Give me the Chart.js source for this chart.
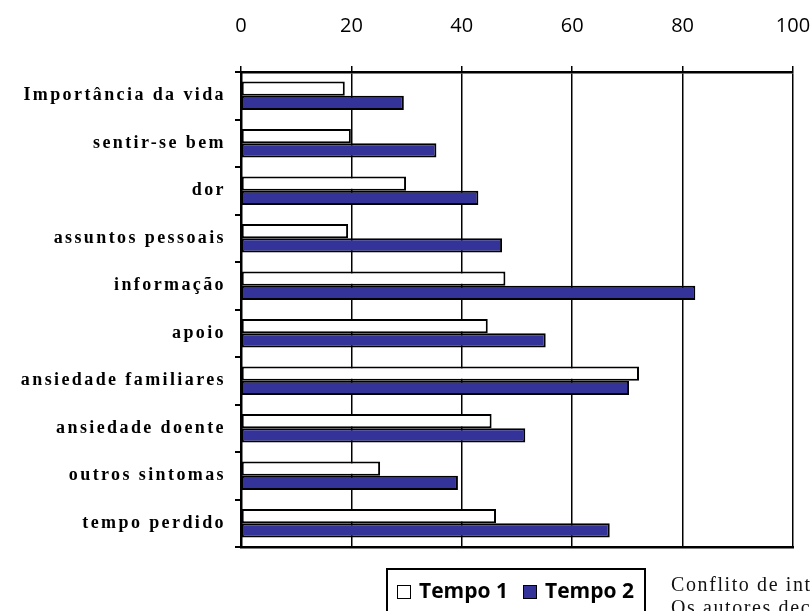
<!DOCTYPE html>
<html lang="pt">
<head>
<meta charset="utf-8">
<script src="https://cdn.jsdelivr.net/npm/chart.js@4/dist/chart.umd.min.js"></script>
<style>
  html, body { margin: 0; padding: 0; background: #fff; overflow: hidden; }
  #wrap { position: relative; width: 811px; height: 611px; }
  #legenda {
    position: absolute; left: 386px; top: 568px; width: 256px; height: 70px;
    border: 2px solid #000; background: #fff;
    font: bold 21px "Open Sans", sans-serif; color: #000;
  }
  #legenda .item { position: absolute; top: 5px; line-height: 30px; white-space: nowrap; }
  #legenda .caixa {
    display: inline-block; width: 12px; height: 12px; border: 1.5px solid #000;
    margin-right: 8px; vertical-align: -1px;
  }
  #nota {
    position: absolute; left: 671px; top: 573px;
    font: 20px "Liberation Serif", "Times New Roman", serif; letter-spacing: 1.6px;
    line-height: 23px; white-space: nowrap; color: #111;
  }
</style>
</head>
<body>
<div id="wrap">
  <canvas id="grafico"></canvas>
  <div id="legenda"></div>
  <div id="nota">Conflito de interesses<br>Os autores declaram não ter conflitos de interesse.</div>
</div>
<script>
// dados
const categorias = ['Importância da vida', 'sentir-se bem', 'dor', 'assuntos pessoais', 'informação',
  'apoio', 'ansiedade familiares', 'ansiedade doente', 'outros sintomas', 'tempo perdido'];
const tempo1 = [18.8, 19.9, 29.9, 19.4, 47.9, 44.7, 72.1, 45.4, 25.2, 46.2];
const tempo2 = [29.5, 35.4, 43.0, 47.3, 82.3, 55.2, 70.3, 51.5, 39.3, 66.8];
const series = ['Tempo 1', 'Tempo 2'];
const ticksX = [0, 20, 40, 60, 80, 100];

const cores = ['#ffffff', '#333399'];

// espaçamento das letras nos rótulos das categorias
const espacoLetras = {
  id: 'espacoLetras',
  afterLayout(chart) {
    const sc = chart.scales.y;
    if (sc._comEspaco) return;
    const orig = sc.drawLabels.bind(sc);
    sc.drawLabels = function (area) {
      chart.ctx.save();
      chart.ctx.letterSpacing = '2.4px';
      orig(area);
      chart.ctx.restore();
    };
    sc._comEspaco = true;
  }
};

const semPadding = (s) => { s.paddingLeft = 0; s.paddingRight = 0; };

const ctx = document.getElementById('grafico').getContext('2d');
const grafico = new Chart(ctx, {
  type: 'bar',
  data: {
    labels: categorias,
    datasets: [
      { label: series[0], data: tempo1, backgroundColor: cores[0], borderColor: '#000', borderWidth: 2, borderSkipped: false },
      { label: series[1], data: tempo2, backgroundColor: cores[1], borderColor: '#000', borderWidth: 2, borderSkipped: false }
    ]
  },
  options: {
    indexAxis: 'y',
    responsive: true,
    maintainAspectRatio: false,
    animation: false,
    layout: { padding: { left: 0, right: 18, top: 0, bottom: 0 } },
    datasets: { bar: { categoryPercentage: 0.6, barPercentage: 1.0 } },
    plugins: { legend: { display: false }, tooltip: { enabled: false } },
    scales: {
      x: {
        position: 'top',
        min: 0, max: 100,
        afterBuildTicks: (s) => { s.ticks = ticksX.map(v => ({ value: v })); },
        afterFit: (s) => { s.height = 72; semPadding(s); },
        ticks: { color: '#000', padding: 28, font: { family: 'Open Sans', size: 20 } },
        grid: { color: '#000', lineWidth: 1.5, tickLength: 6 },
        border: { display: true, color: '#000', width: 2.5 }
      },
      x2: {
        type: 'linear',
        position: 'bottom',
        afterFit: (s) => { s.height = 64; semPadding(s); },
        ticks: { display: false },
        grid: { display: false, drawTicks: false },
        border: { display: true, color: '#000', width: 2.5 }
      },
      y: {
        afterFit: (s) => { s.width = 241; s.paddingTop = 0; s.paddingBottom = 0; },
        ticks: { color: '#000', padding: 9, font: { family: 'Liberation Serif', size: 18, weight: 'bold' } },
        grid: { drawOnChartArea: false, drawTicks: true, tickLength: 6, color: '#000', lineWidth: 2 },
        border: { display: true, color: '#000', width: 2.5 }
      }
    }
  },
  plugins: [espacoLetras]
});

// legenda com caixa, como no original
const legenda = document.getElementById('legenda');
const posicoes = [9, 135];
grafico.data.datasets.forEach((ds, i) => {
  const item = document.createElement('span');
  item.className = 'item';
  item.style.left = posicoes[i] + 'px';
  item.innerHTML = `<span class="caixa" style="background:${ds.backgroundColor}"></span>${ds.label}`;
  legenda.appendChild(item);
});
</script>
</body>
</html>
